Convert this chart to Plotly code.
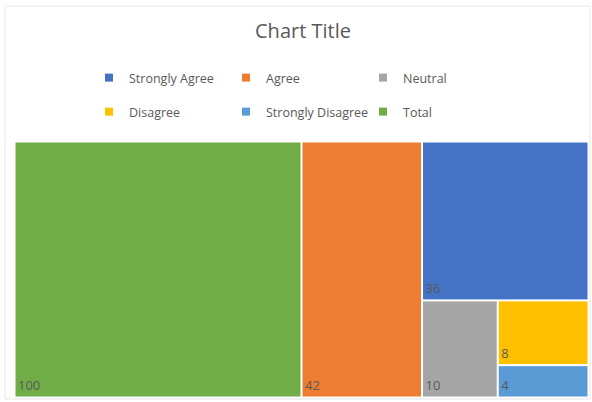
import plotly.graph_objects as go

# Survey response counts
categories = ["Total", "Agree", "Strongly Agree", "Neutral", "Disagree", "Strongly Disagree"]
values = [100, 42, 36, 10, 8, 4]
colors = {
    "Strongly Agree": "#4472C4",
    "Agree": "#ED7D31",
    "Neutral": "#A5A5A5",
    "Disagree": "#FFC000",
    "Strongly Disagree": "#5B9BD5",
    "Total": "#70AD47",
}
legend_row1 = ["Strongly Agree", "Agree", "Neutral"]
legend_row2 = ["Disagree", "Strongly Disagree", "Total"]

W, H = 592, 402
FONT = "Open Sans, sans-serif"

fig = go.Figure()

fig.add_trace(go.Treemap(
    labels=categories,
    parents=[""] * len(categories),
    values=values,
    sort=False,
    marker=dict(colors=[colors[c] for c in categories],
                line=dict(color="white", width=1),
                pad=dict(t=0, l=0, r=0, b=0)),
    tiling=dict(packing="binary", pad=1),
    pathbar=dict(visible=False),
    texttemplate="%{value}",
    textposition="bottom left",
    textfont=dict(family=FONT, size=13, color="#595959"),
    hoverinfo="label+value",
    domain=dict(x=[15 / W, 588 / W], y=[5 / H, 260 / H]),
))

# Legend entries, split across two rows of three
for row, legend_id in ((legend_row1, "legend"), (legend_row2, "legend2")):
    for name in row:
        fig.add_trace(go.Scatter(
            x=[None], y=[None], mode="markers", name=name,
            marker=dict(symbol="square", size=8, color=colors[name]),
            legend=legend_id, showlegend=True,
        ))

legend_common = dict(
    orientation="h", xanchor="left", yanchor="middle",
    font=dict(family=FONT, size=12.5, color="#595959"),
    entrywidth=92, entrywidthmode="pixels",
    itemclick=False, itemdoubleclick=False,
    bgcolor="rgba(0,0,0,0)", traceorder="normal",
)

fig.update_layout(
    width=W, height=H,
    margin=dict(l=0, r=0, t=0, b=0),
    paper_bgcolor="white", plot_bgcolor="white",
    title=dict(text="Chart Title", x=303 / W, xanchor="center", y=1 - 31 / H, yanchor="middle",
               font=dict(family=FONT, size=20, color="#595959")),
    xaxis=dict(visible=False), yaxis=dict(visible=False),
    legend=dict(x=89 / W, y=1 - 78 / H, **legend_common),
    legend2=dict(x=89 / W, y=1 - 112 / H, **legend_common),
    shapes=[dict(type="rect", xref="paper", yref="paper",
                 x0=5 / W, x1=590 / W, y0=3 / H, y1=1 - 6 / H,
                 line=dict(color="#E6E6E6", width=1), layer="below")],
)

fig.write_html("out.html")
